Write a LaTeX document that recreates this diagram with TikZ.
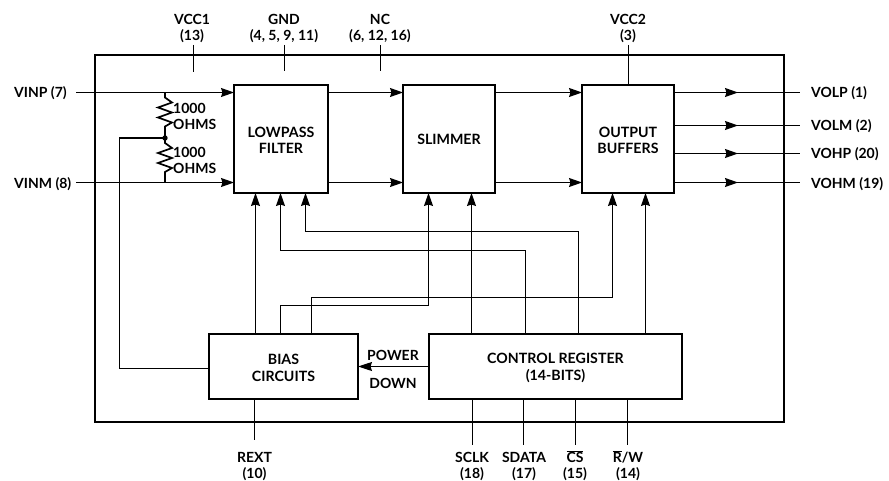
\documentclass[tikz,border=0pt]{standalone}
\usepackage{fontspec}
\setmainfont{Lato}
\usetikzlibrary{arrows.meta,decorations.markings}
\tikzset{
  lbl/.style={font=\bfseries\fontsize{14}{16}\selectfont,inner sep=0pt,align=center,text=black},
  pinl/.style={lbl,anchor=west},
  blockbox/.style={draw=black,line width=2.2pt,inner sep=0pt,outer sep=0pt,align=center,font=\bfseries\fontsize{14.2}{16.5}\selectfont},
  wire/.style={draw=black,line width=1.1pt},
  tip/.style={-{Stealth[length=13pt,width=9pt,inset=1.5pt]}},
  midtip/.style={postaction={decorate},decoration={markings,mark=at position #1 with {\arrow{Stealth[length=13pt,width=9pt,inset=1.5pt]}}}},
}
\newcommand{\zigres}[2]{%
  \draw[black,line width=1.7pt,line join=miter] (#1) -- ++(0,5) -- ++(7,5) -- ++(-14,5) -- ++(14,5) -- ++(-14,5) -- ++(14,5) -- ++(-7,4) -- (#2);}
\newcommand{\lowr}{\rule{0pt}{13.5pt}}
\begin{document}
\begin{tikzpicture}[x=1pt,y=-1pt]
\useasboundingbox (0,0) rectangle (889,481);
\fill[white] (0,0) rectangle (889,481);
% outer package
\node[draw=black,line width=2pt,inner sep=0pt,outer sep=0pt,minimum width=689pt,minimum height=366pt] (chip) at (439.5,238.5) {};
% blocks
\node[blockbox,minimum width=94pt,minimum height=108pt] (lpf) at (281,139) {\lowr LOWPASS\\FILTER};
\node[blockbox,minimum width=92pt,minimum height=108pt] (slim) at (449,139) {SLIMMER};
\node[blockbox,minimum width=92pt,minimum height=108pt] (buf) at (628,139) {\lowr OUTPUT\\BUFFERS};
\node[blockbox,minimum width=149pt,minimum height=65pt] (bias) at (283.5,366.5) {\lowr BIAS\\CIRCUITS};
\node[blockbox,minimum width=253pt,minimum height=65pt] (ctrl) at (555.5,366.5) {\lowr CONTROL REGISTER\\(14-BITS)};
% left pins
\node[pinl] (vinp) at (14,93) {VINP (7)};
\node[pinl] (vinm) at (14,184) {VINM (8)};
\coordinate (inpS) at (76,92.5);
\coordinate (inmS) at (76,182.5);
\draw[wire,tip] (inpS) -- (inpS -| lpf.west);
\draw[wire,tip] (inmS) -- (inmS -| lpf.west);
% resistors
\coordinate (rtop) at (165,92.5);
\coordinate (rmid) at (165,138);
\coordinate (rbot) at (165,182.5);
\zigres{rtop}{rmid}
\zigres{rmid}{rbot}
\fill (rmid) circle (2.7pt);
\node[lbl,anchor=west,align=left] (r1) at (173,116.5) {1000\\[0.5pt]OHMS};
\node[lbl,anchor=west,align=left] (r2) at (173,160.5) {1000\\[0.5pt]OHMS};
\coordinate (fbk) at (119.5,368.5);
\draw[wire] (rmid) -- (119.5,138) -- (fbk) -- (fbk -| bias.west);
% between blocks
\draw[wire,tip] (lpf.east |- inpS) -- (slim.west |- inpS);
\draw[wire,tip] (lpf.east |- inmS) -- (slim.west |- inmS);
\draw[wire,tip] (slim.east |- inpS) -- (buf.west |- inpS);
\draw[wire,tip] (slim.east |- inmS) -- (buf.west |- inmS);
% outputs
\coordinate (o1) at (800,92.5);
\coordinate (o2) at (800,125.5);
\coordinate (o3) at (800,153.5);
\coordinate (o4) at (800,182.5);
\foreach \c in {o1,o2,o3,o4}{\draw[wire,midtip=64pt] (buf.east |- \c) -- (\c);}
\node[pinl] (volp) at (811,93) {VOLP (1)};
\node[pinl] (volm) at (811,126) {VOLM (2)};
\node[pinl] (vohp) at (811,154) {VOHP (20)};
\node[pinl] (vohm) at (811,184) {VOHM (19)};
% top pins
\node[lbl] (vcc1) at (192,28.5) {VCC1\\(13)};
\node[lbl] (gnd) at (284,28.5) {GND\\(4, 5, 9, 11)};
\node[lbl] (nc) at (380,28.5) {NC\\(6, 12, 16)};
\node[lbl] (vcc2) at (628,28.5) {VCC2\\(3)};
\coordinate (t1a) at (193.5,45); \coordinate (t1b) at (193.5,72);
\coordinate (t2a) at (284.5,45); \coordinate (t2b) at (284.5,71);
\coordinate (t3a) at (380.5,45); \coordinate (t3b) at (380.5,71);
\coordinate (t4a) at (628.5,45);
\draw[wire] (t1a) -- (t1b);
\draw[wire] (t2a) -- (t2b);
\draw[wire] (t3a) -- (t3b);
\draw[wire] (t4a) -- (t4a |- buf.north);
% bias to blocks
\coordinate (b1) at (255.5,334);
\coordinate (b2) at (280.5,334);
\coordinate (b3) at (311.5,334);
\draw[wire,tip] (b1) -- (b1 |- lpf.south);
\draw[wire,tip] (b2) -- (280.5,305.5) -- (428.5,305.5) -- (428.5,193);
\draw[wire,tip] (b3) -- (311.5,297.5) -- (612.5,297.5) -- (612.5,193);
% control to blocks
\coordinate (c1) at (471.5,334);
\coordinate (c2) at (525.5,334);
\coordinate (c3) at (578.5,334);
\coordinate (c4) at (645.5,334);
\draw[wire,tip] (c1) -- (c1 |- slim.south);
\draw[wire,tip] (c2) -- (525.5,250.5) -- (280.5,250.5) -- (280.5,193);
\draw[wire,tip] (c3) -- (578.5,231.5) -- (305.5,231.5) -- (305.5,193);
\draw[wire,tip] (c4) -- (c4 |- buf.south);
% power down
\coordinate (pd) at (429,366.5);
\draw[wire,-{Stealth[length=14pt,width=9pt,inset=1.5pt]}] (pd) -- (pd -| bias.east);
\node[lbl] (pw) at (393,355) {POWER};
\node[lbl] (dn) at (393,383) {DOWN};
% bottom pins
\node[lbl] (rext) at (254.5,466.5) {REXT\\(10)};
\node[lbl] (sclk) at (472,466.5) {SCLK\\(18)};
\node[lbl] (sdata) at (524,466.5) {SDATA\\(17)};
\node[lbl] (cs) at (575,465.5) {$\overline{\hbox{CS}}$\\(15)};
\node[lbl] (rw) at (628,465.5) {$\overline{\hbox{R}}$/W\\(14)};
\coordinate (p0) at (254.5,440);
\coordinate (p1) at (472.5,445);
\coordinate (p2) at (523.5,445);
\coordinate (p3) at (575.5,445);
\coordinate (p4) at (627.5,445);
\draw[wire] (p0 |- bias.south) -- (p0);
\foreach \c in {p1,p2,p3,p4}{\draw[wire] (\c |- ctrl.south) -- (\c);}
\end{tikzpicture}
\end{document}
